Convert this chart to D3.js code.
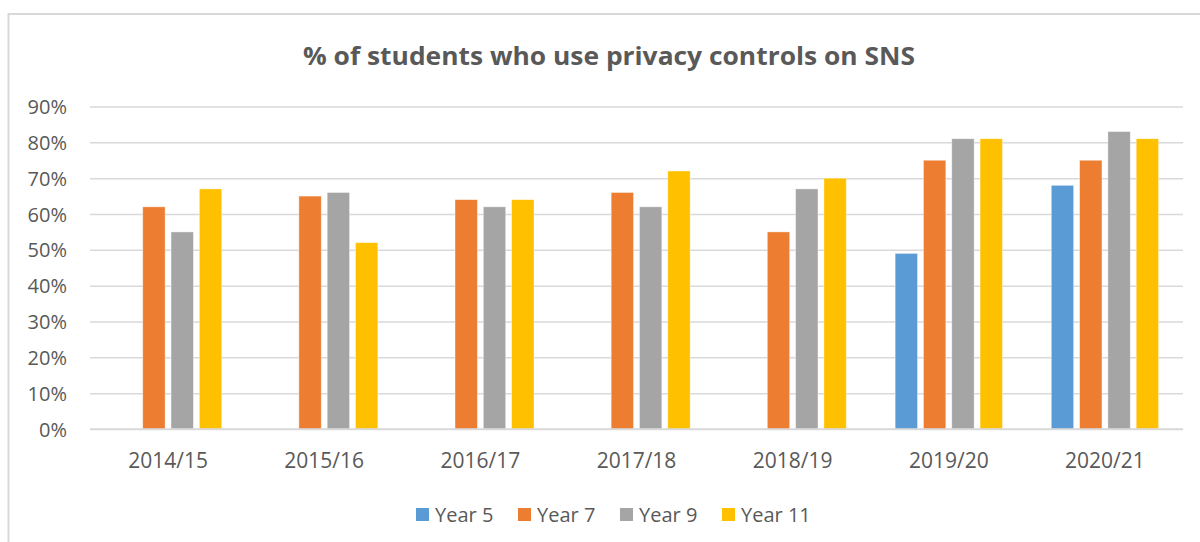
<!DOCTYPE html>
<html>
<head>
<meta charset="utf-8">
<script src="https://cdn.jsdelivr.net/npm/d3@7"></script>
<style>
  html, body { margin: 0; padding: 0; background: #fff; }
  svg { display: block; font-family: "Open Sans", sans-serif; }
</style>
</head>
<body>
<svg id="chart" width="1200" height="542"></svg>
<script>
const categories = ["2014/15", "2015/16", "2016/17", "2017/18", "2018/19", "2019/20", "2020/21"];
const seriesNames = ["Year 5", "Year 7", "Year 9", "Year 11"];
const year5  = [null, null, null, null, null, 0.49, 0.68];
const year7  = [0.62, 0.65, 0.64, 0.66, 0.55, 0.75, 0.75];
const year9  = [0.55, 0.66, 0.62, 0.62, 0.67, 0.81, 0.83];
const year11 = [0.67, 0.52, 0.64, 0.72, 0.70, 0.81, 0.81];
const yTicks = [0, 0.1, 0.2, 0.3, 0.4, 0.5, 0.6, 0.7, 0.8, 0.9];
const colors = ["#5B9BD5", "#ED7D31", "#A5A5A5", "#FFC000"];
const title = "% of students who use privacy controls on SNS";

const seriesValues = [year5, year7, year9, year11];
const svg = d3.select("#chart");
const textColor = "#595959";
const gridColor = "#d9d9d9";
const font = "'Open Sans', sans-serif";

// chart border (extends beyond the view on right/bottom)
svg.append("rect")
  .attr("x", 8.5).attr("y", 14)
  .attr("width", 1300).attr("height", 600)
  .attr("fill", "none").attr("stroke", gridColor).attr("stroke-width", 2);

// title
svg.append("text")
  .attr("x", 609).attr("y", 65)
  .attr("text-anchor", "middle")
  .attr("font-size", 25).attr("font-weight", "bold")
  .attr("fill", textColor)
  .attr("textLength", 612).attr("lengthAdjust", "spacingAndGlyphs")
  .text(title);

const x0 = d3.scaleBand().domain(categories).range([90, 1183]).padding(0);
const x1 = d3.scaleBand().domain(seriesNames).range([0, x0.bandwidth()])
  .paddingInner(0.21).paddingOuter(0.863);
const y = d3.scaleLinear().domain([0, 0.9]).range([429, 106.5]);

// gridlines + y labels
const yAxis = d3.axisLeft(y).tickValues(yTicks).tickFormat(d3.format(".0%"))
  .tickSize(-(1183 - 90)).tickPadding(22);
const gy = svg.append("g").attr("transform", "translate(90,0)").call(yAxis);
gy.select(".domain").remove();
gy.selectAll(".tick line").attr("stroke", gridColor).attr("stroke-width", 1.5);
gy.selectAll(".tick text").attr("fill", textColor).attr("font-size", 20)
  .attr("font-family", font).attr("x", -23).attr("dy", "0.35em");

// bars
const groups = svg.append("g").selectAll("g")
  .data(categories).join("g")
  .attr("transform", d => `translate(${x0(d)},0)`);
groups.selectAll("rect")
  .data((c, i) => seriesNames.map((s, j) => ({ s, j, v: seriesValues[j][i] })).filter(d => d.v != null))
  .join("rect")
  .attr("x", d => x1(d.s))
  .attr("width", x1.bandwidth())
  .attr("y", d => y(d.v))
  .attr("height", d => y(0) - y(d.v))
  .attr("fill", d => colors[d.j])
  .attr("stroke", "#fff").attr("stroke-opacity", 0.5).attr("stroke-width", 0.75);

// x axis labels
const xAxis = d3.axisBottom(x0).tickSize(0).tickPadding(0);
const gx = svg.append("g").attr("transform", "translate(0,429)").call(xAxis);
gx.select(".domain").remove();
gx.selectAll(".tick text").attr("fill", textColor).attr("font-size", 21)
  .attr("font-family", font).attr("y", 39).attr("dy", 0);

// baseline
svg.append("line").attr("x1", 90).attr("x2", 1183).attr("y1", y(0)).attr("y2", y(0))
  .attr("stroke", gridColor).attr("stroke-width", 1.5);

// legend
const legendX = [416, 518, 620, 722];
const legend = svg.append("g").selectAll("g").data(seriesNames).join("g")
  .attr("transform", (d, i) => `translate(${legendX[i]},508)`);
legend.append("rect").attr("width", 13).attr("height", 13).attr("fill", (d, i) => colors[i]);
legend.append("text").attr("x", 19).attr("y", 13.5)
  .attr("font-size", 20).attr("fill", textColor).text(d => d);
</script>
</body>
</html>
